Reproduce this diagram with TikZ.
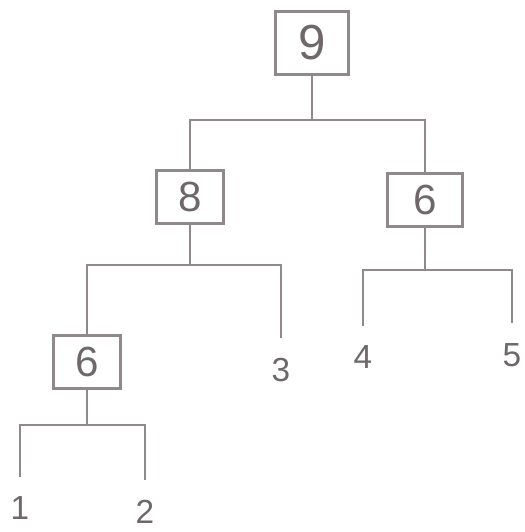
\documentclass[tikz,border=0pt]{standalone}
\usepackage{fontspec}
\setmainfont{Liberation Sans}
\usepackage{tikz}
\usetikzlibrary{positioning}
\definecolor{pencil}{HTML}{8F888C}
\definecolor{lead}{HTML}{6E686B}

\begin{document}
\begin{tikzpicture}[
  x=0.02cm,y=-0.02cm,
  box/.style={rectangle,draw=pencil,line width=1.5pt,text=lead,
              minimum width=1.35cm,minimum height=1.05cm,inner sep=0pt,
              font=\fontsize{24}{26}\selectfont},
  leaf/.style={text=lead,inner sep=0pt,outer sep=0.4cm,
               font=\fontsize{19}{21}\selectfont},
  wire/.style={draw=pencil,line width=1.5pt}
]
\useasboundingbox (0,0) rectangle (525,532);
\node[box,minimum width=1.45cm,minimum height=1.25cm,font=\fontsize{28}{30}\selectfont] (n9) at (312,43) {9};
\node[box] (n8) at (190,197) {8};
\node[box,minimum width=1.5cm] (r6) at (425,200) {6};
\node[box] (l6) at (87,362) {6};

\node[leaf] (k3) at (281,370) {3};
\node[leaf] (k4) at (363,357) {4};
\node[leaf] (k5) at (512,355) {5};
\node[leaf] (k1) at (20,508) {1};
\node[leaf] (k2) at (145,512) {2};

\coordinate (j9) at (312,120);
\coordinate (j8) at (190,265);
\coordinate (jr) at (425,270);
\coordinate (jl) at (87,425);

\draw[wire] (n9) -- (j9);
\draw[wire] (n8) |- (j9) -| (r6);
\draw[wire] (n8) -- (j8);
\draw[wire] (l6) |- (j8) -| (k3);
\draw[wire] (r6) -- (jr);
\draw[wire] (k4) |- (jr) -| (k5);
\draw[wire] (l6) -- (jl);
\draw[wire] (k1) |- (jl) -| (k2);
\end{tikzpicture}
\end{document}
